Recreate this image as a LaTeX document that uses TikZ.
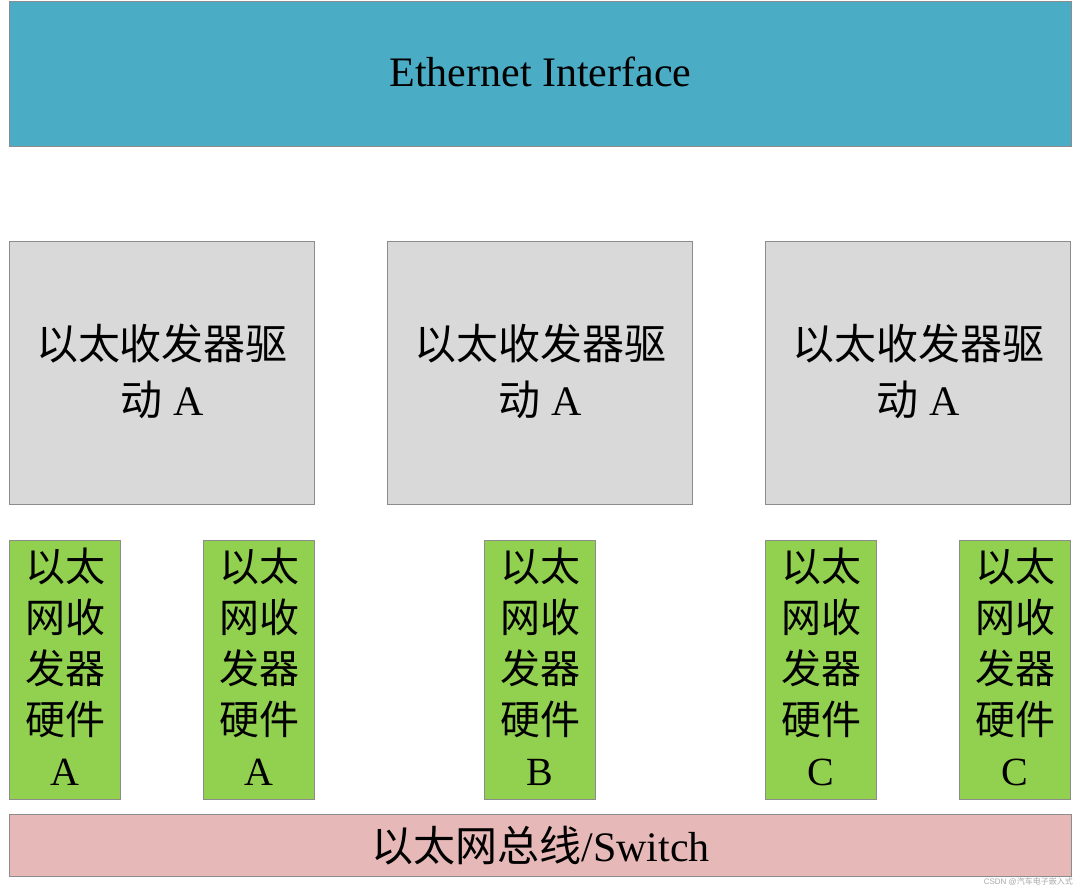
\documentclass[tikz,border=0pt]{standalone}
\usepackage{fontspec}
\setmainfont{Liberation Serif}
\setsansfont{Liberation Sans}
\newfontfamily\cjk{Noto Sans CJK SC}
\definecolor{topblue}{HTML}{4BACC6}
\definecolor{drvgray}{HTML}{D9D9D9}
\definecolor{hwgreen}{HTML}{92D050}
\definecolor{buspink}{HTML}{E6B9B8}
\definecolor{edge}{HTML}{8C8C8C}
\newcommand{\lift}[1]{\rule[-#1pt]{0pt}{#1pt}}
\tikzset{
  box/.style={draw=edge, line width=1pt, inner sep=0pt, align=center, anchor=north west},
  drvbox/.style={box, fill=drvgray, minimum width=305pt, minimum height=263pt, font=\fontsize{42}{56}\selectfont},
  hwbox/.style={box, fill=hwgreen, minimum width=111pt, minimum height=259pt, font=\fontsize{40}{51}\selectfont},
}
\begin{document}
\begin{tikzpicture}[x=1pt,y=-1pt]
\useasboundingbox (0,0) rectangle (1080,890);
\node[box, fill=topblue, minimum width=1062pt, minimum height=145pt, font=\fontsize{42}{50}\selectfont] (eth) at (9,1) {Ethernet Interface\lift{4}};
\node[drvbox] (d1) at (9,241) {{\cjk 以太收发器驱}\\{\cjk 动} A\lift{7}};
\node[drvbox] (d2) at (387,241) {{\cjk 以太收发器驱}\\{\cjk 动} A\lift{7}};
\node[drvbox] (d3) at (765,241) {{\cjk 以太收发器驱}\\{\cjk 动} A\lift{7}};
\node[hwbox] (h1) at (9,540) {{\cjk 以太}\\{\cjk 网收}\\{\cjk 发器}\\{\cjk 硬件}\\A\lift{6}};
\node[hwbox] (h2) at (203,540) {{\cjk 以太}\\{\cjk 网收}\\{\cjk 发器}\\{\cjk 硬件}\\A\lift{6}};
\node[hwbox] (h3) at (484,540) {{\cjk 以太}\\{\cjk 网收}\\{\cjk 发器}\\{\cjk 硬件}\\B\lift{6}};
\node[hwbox] (h4) at (765,540) {{\cjk 以太}\\{\cjk 网收}\\{\cjk 发器}\\{\cjk 硬件}\\C\lift{6}};
\node[hwbox] (h5) at (959,540) {{\cjk 以太}\\{\cjk 网收}\\{\cjk 发器}\\{\cjk 硬件}\\C\lift{6}};
\node[box, fill=buspink, minimum width=1062pt, minimum height=62pt, font=\fontsize{42}{50}\selectfont] (bus) at (9,814) {{\cjk 以太网总线}/Switch\lift{4}};
\node[anchor=east, inner sep=0pt, text=black!35, font=\sffamily\fontsize{8}{9}\selectfont] (wm) at (1073,882) {CSDN @{\cjk 汽车电子嵌入式}};
\end{tikzpicture}
\end{document}
